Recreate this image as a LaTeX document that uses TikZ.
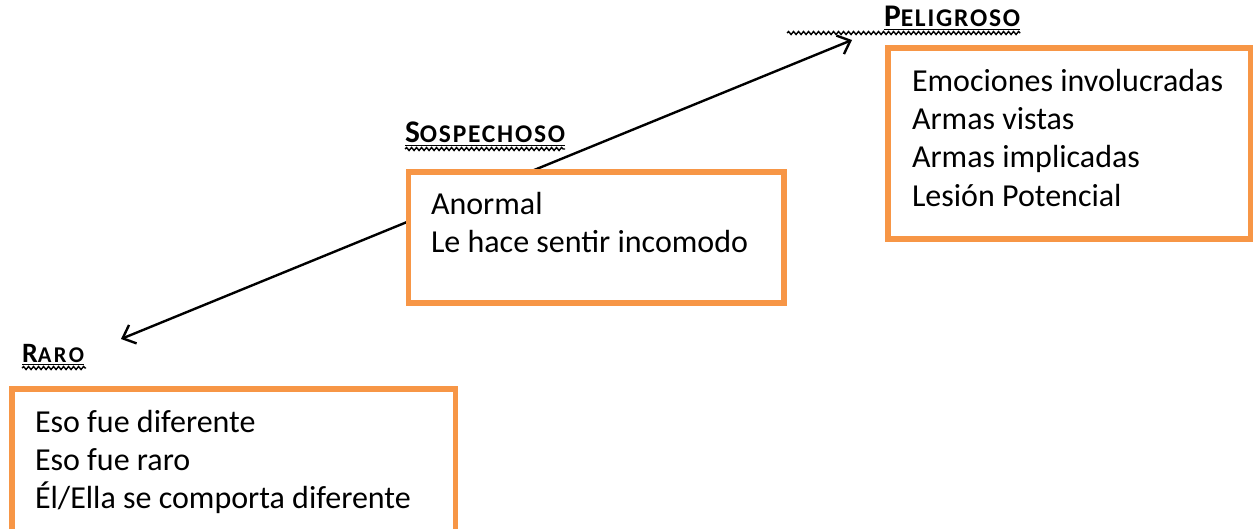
\documentclass[tikz,border=0pt]{standalone}
\usepackage{fontspec}
\setmainfont{Carlito}
\usetikzlibrary{arrows.meta,decorations.pathmorphing}
\definecolor{boxorange}{HTML}{F79646}
\newcommand{\fsc}[2]{{\bfseries\fontsize{31.5}{31.5}\selectfont\addfontfeature{LetterSpace=5}#1\fontsize{25.5}{25.5}\selectfont\addfontfeature{LetterSpace=7}#2}}
\newcommand{\fscsmall}[2]{{\bfseries\fontsize{28}{28}\selectfont\addfontfeature{LetterSpace=8}#1\fontsize{22.5}{22.5}\selectfont\addfontfeature{LetterSpace=11}#2}}
\begin{document}
\begin{tikzpicture}[x=1pt,y=-1pt,
  box/.style={draw=boxorange, line width=5.5pt, fill=white, rectangle, inner sep=0pt, outer sep=0pt},
  txt/.style={font=\fontsize{32}{32}\selectfont, inner sep=0pt, outer sep=0pt, anchor=base west},
  head/.style={inner sep=0pt, outer sep=0pt, anchor=base west},
  uline/.style={line width=1.8pt, black},
  wavy/.style={line width=1.4pt, black, decorate, decoration={snake, amplitude=1.5pt, segment length=5pt}},
  conn/.style={line width=2.4pt, black, {Straight Barb[length=11pt,width=20pt,line width=2.4pt]}-{Straight Barb[length=11pt,width=20pt,line width=2.4pt]}}
]
\useasboundingbox (0,0) rectangle (1253,529);
% arrow ends
\coordinate (lowend) at (121,339);
\coordinate (highend) at (852,40);
\draw[conn] (lowend) -- (highend);
% boxes
\node[box, minimum width=362.5pt, minimum height=191pt] (pelbox) at (1069,143.5) {};
\node[box, minimum width=375.5pt, minimum height=131pt] (sosbox) at (596,237.5) {};
\node[box, minimum width=443.5pt, minimum height=181pt] (rarbox) at (233.75,479.5) {};
% headings
\node[head] (pelh) at (884,27) {\fsc{P}{ELIGROSO}};
\node[head] (sosh) at (405,143) {\fsc{S}{OSPECHOSO}};
\node[head] (rarh) at (22,362) {\fscsmall{R}{ARO}};
\draw[uline] ([yshift=-2.5pt]pelh.base west) -- ([yshift=-2.5pt]pelh.base east);
\draw[uline] ([yshift=-2.5pt]sosh.base west) -- ([yshift=-2.5pt]sosh.base east);
\draw[uline] ([yshift=-2.5pt]rarh.base west) -- ([yshift=-2.5pt]rarh.base east);
\draw[wavy] ([xshift=-97pt,yshift=-6pt]pelh.base west) -- ([yshift=-6pt]pelh.base east);
\draw[wavy] ([yshift=-6pt]sosh.base west) -- ([yshift=-6pt]sosh.base east);
\draw[wavy] ([yshift=-6pt]rarh.base west) -- ([xshift=2pt,yshift=-6pt]rarh.base east);
% peligroso text
\node[txt] (p1) at (912,92) {Emociones involucradas};
\node[txt] (p2) at (912,130) {Armas vistas};
\node[txt] (p3) at (912,168) {Armas implicadas};
\node[txt] (p4) at (912,207) {Lesión Potencial};
% sospechoso text
\node[txt] (s1) at (431,215) {Anormal};
\node[txt] (s2) at (431,253) {Le hace sentir incomodo};
% raro text
\node[txt] (r1) at (35,432) {Eso fue diferente};
\node[txt] (r2) at (35,470) {Eso fue raro};
\node[txt] (r3) at (35,508) {Él/Ella se comporta diferente};
\end{tikzpicture}
\end{document}
